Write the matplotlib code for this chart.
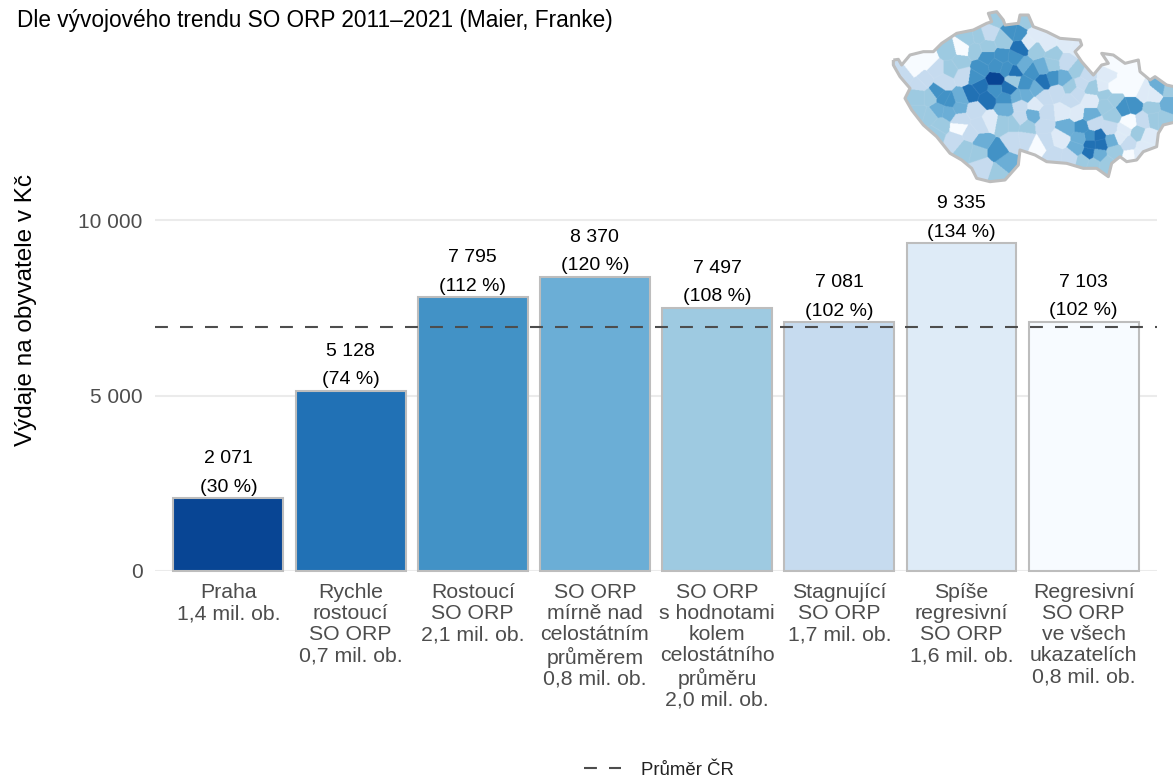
import matplotlib
matplotlib.use('Agg')
import matplotlib.pyplot as plt
from matplotlib.colors import to_rgb
from matplotlib.lines import Line2D
from matplotlib.patches import Polygon
import numpy as np

plt.rcParams['font.family'] = ['Liberation Sans', 'DejaVu Sans']

# data
categories = ['Praha\n1,4 mil. ob.',
              'Rychle\nrostoucí\nSO ORP\n0,7 mil. ob.',
              'Rostoucí\nSO ORP\n2,1 mil. ob.',
              'SO ORP\nmírně nad\ncelostátním\nprůměrem\n0,8 mil. ob.',
              'SO ORP\ns hodnotami\nkolem\ncelostátního\nprůměru\n2,0 mil. ob.',
              'Stagnující\nSO ORP\n1,7 mil. ob.',
              'Spíše\nregresivní\nSO ORP\n1,6 mil. ob.',
              'Regresivní\nSO ORP\nve všech\nukazatelích\n0,8 mil. ob.']
values = [2071, 5128, 7795, 8370, 7497, 7081, 9335, 7103]
percents = [30, 74, 112, 120, 108, 102, 134, 102]
bar_colors = ['#084594', '#2171B5', '#4292C6', '#6BAED6', '#9ECAE1', '#C6DBEF', '#DEEBF7', '#F7FBFF']
average = 6960
y_ticks = [0, 5000, 10000]
y_ticklabels = ['0', '5 000', '10 000']

# map: country outline and one (x, y, colour index) per district
country = [(40, 180), (55, 178), (65, 195), (90, 165), (130, 155), (160, 155), (185, 130), (230, 100), (280, 90),
           (320, 70), (335, 65), (325, 40), (350, 35), (370, 60), (375, 75), (415, 70), (420, 45), (445, 45),
           (460, 80), (500, 95), (540, 115), (600, 120), (605, 135), (585, 155), (605, 185), (640, 225), (665, 195),
           (685, 190), (665, 160), (700, 165), (735, 190), (775, 180), (780, 215), (810, 240), (825, 230), (860, 255),
           (890, 262), (890, 365), (850, 375), (835, 400), (830, 440), (790, 455), (770, 480), (740, 485), (720, 470),
           (695, 490), (685, 530), (650, 505), (610, 505), (560, 490), (500, 485), (465, 465), (420, 450), (415, 495),
           (375, 540), (330, 545), (290, 535), (275, 505), (245, 480), (210, 460), (170, 410), (130, 375), (95, 330),
           (75, 295), (90, 265), (60, 230), (40, 195)]
districts = [
    (100, 205, 7), (145, 180, 7), (75, 225, 5), (170, 205, 5), (130, 240, 5), (205, 155, 4), (245, 145, 7),
    (210, 205, 4), (240, 185, 4), (250, 225, 5), (190, 245, 5), (120, 250, 5), (285, 150, 4), (265, 115, 4),
    (295, 110, 4), (325, 100, 5), (320, 140, 4), (370, 120, 4), (345, 50, 4), (438, 60, 4), (415, 100, 2),
    (395, 95, 2), (420, 143, 1), (445, 125, 6), (465, 105, 6), (500, 130, 6), (560, 130, 6), (590, 140, 6),
    (470, 150, 4), (520, 165, 4), (560, 185, 5), (590, 210, 4), (620, 225, 5), (320, 170, 2), (365, 170, 2),
    (405, 175, 2), (300, 205, 2), (350, 195, 2), (380, 205, 2), (402, 215, 1), (345, 240, 0), (300, 260, 1),
    (285, 230, 2), (320, 295, 1), (385, 265, 1), (345, 268, 2), (375, 295, 2), (400, 240, 4), (430, 195, 3),
    (455, 215, 2), (435, 250, 2), (485, 200, 3), (515, 190, 4), (520, 235, 2), (490, 245, 1), (550, 235, 3),
    (470, 265, 3), (435, 285, 3), (410, 290, 3), (570, 260, 4), (530, 275, 5), (490, 290, 5), (590, 280, 5),
    (605, 250, 5), (635, 265, 4), (675, 280, 4), (190, 295, 2), (170, 275, 2), (240, 295, 3), (275, 280, 1),
    (210, 305, 2), (175, 330, 3), (205, 335, 3), (235, 320, 3), (115, 290, 4), (150, 290, 4), (115, 340, 4),
    (150, 350, 4), (180, 375, 4), (165, 400, 4), (225, 420, 5), (240, 360, 5), (285, 330, 5), (300, 375, 5),
    (270, 400, 5), (238, 382, 7), (328, 362, 6), (375, 325, 3), (370, 370, 4), (400, 370, 4), (420, 355, 5),
    (440, 380, 4), (460, 345, 3), (465, 315, 6), (420, 315, 5), (495, 340, 5), (305, 425, 3), (350, 455, 2),
    (375, 490, 3), (355, 515, 4), (310, 500, 5), (255, 445, 4), (295, 455, 4), (400, 420, 5), (435, 415, 5),
    (490, 375, 5), (495, 425, 5), (478, 435, 7), (540, 415, 6), (520, 465, 5), (570, 470, 5), (550, 335, 6),
    (590, 340, 6), (630, 300, 6), (570, 300, 5), (630, 345, 3), (560, 380, 3), (605, 380, 2), (640, 370, 5),
    (690, 385, 5), (700, 345, 4), (630, 410, 2), (600, 415, 3), (655, 410, 1), (630, 430, 1), (660, 430, 1),
    (695, 420, 3), (625, 460, 1), (590, 445, 3), (655, 465, 3), (610, 480, 4), (705, 455, 4), (680, 490, 4),
    (640, 490, 4), (730, 325, 2), (760, 315, 2), (680, 315, 4), (700, 300, 4), (745, 365, 7), (730, 390, 6),
    (680, 230, 6), (700, 260, 7), (740, 235, 7), (745, 195, 7), (700, 185, 7), (760, 265, 7), (670, 260, 6),
    (790, 280, 6), (840, 260, 3), (865, 265, 4), (820, 285, 6), (815, 325, 4), (790, 360, 5), (820, 355, 4),
    (865, 315, 3), (850, 355, 4), (775, 400, 4), (800, 410, 6), (745, 430, 5), (790, 440, 6), (720, 410, 6),
    (750, 468, 7), (775, 465, 6),
]

W, H = 1173, 780
fig = plt.figure(figsize=(W / 100, H / 100), dpi=100)
ax = fig.add_axes([155 / W, 1 - 571 / H, (1157 - 155) / W, (571 - 190) / H])

x = list(range(len(values)))
ax.bar(x, values, width=0.9, color=bar_colors, edgecolor='#BDBDBD', linewidth=1.5, zorder=2, clip_on=False)
ax.axhline(average, color='#4D4D4D', linewidth=1.5, dashes=(6.2, 5.8), zorder=3)

for i in x:
    label = format(values[i], ',').replace(',', ' ') + '\n(%d %%)' % percents[i]
    ax.annotate(label, (i, values[i]), xytext=(0, 2), textcoords='offset points', ha='center', va='bottom',
                fontsize=14, color='black', linespacing=1.86, annotation_clip=False)

ax.set_xlim(-0.6, 7.6)
ax.set_ylim(0, (571 - 190) / 0.0351)
ax.set_xticks(x)
ax.set_xticklabels(categories, fontsize=15.3, color='#4D4D4D', linespacing=1.13)
ax.set_yticks(y_ticks)
ax.set_yticklabels(y_ticklabels, fontsize=15, color='#4D4D4D')
ax.tick_params(axis='both', length=0)
ax.tick_params(axis='x', pad=9)
ax.tick_params(axis='y', pad=9)
ax.grid(axis='y', color='#EBEBEB', linewidth=1.5, zorder=0)
ax.set_axisbelow(True)
for s in ax.spines.values():
    s.set_visible(False)

fig.text(26 / W, 1 - 310 / H, 'Výdaje na obyvatele v Kč', rotation=90, fontsize=17.5, color='black',
         ha='center', va='center')
fig.text(17 / W, 1 - 21 / H, 'Dle vývojového trendu SO ORP 2011–2021 (Maier, Franke)', fontsize=16.25,
         color='black', ha='left', va='center')

handle = Line2D([], [], color='#4D4D4D', linewidth=1.5, dashes=(6.2, 5.8))
fig.legend(handles=[handle], labels=['Průměr ČR'], loc='center left', bbox_to_anchor=(567 / W, 1 - 770 / H),
           frameon=False, fontsize=13.4, handlelength=2.0, handletextpad=1.07, labelcolor='#222222')

# map inset: each pixel takes the colour of the nearest district point
m = fig.add_axes([880 / W, 1 - 190 / H, 293 / W, 190 / H])
m.set_xlim(0, 879)
m.set_ylim(570, 0)
m.axis('off')
gx, gy = np.meshgrid(np.arange(0, 879, 1.5), np.arange(0, 570, 1.5))
best = np.full(gx.shape, np.inf)
cell = np.zeros(gx.shape, dtype=int)
for k, (dx, dy, _) in enumerate(districts):
    dist = (gx - dx) ** 2 + (gy - dy) ** 2
    cell[dist < best] = k
    best = np.minimum(best, dist)
palette = np.array([to_rgb(c) for c in bar_colors])
rgb = palette[np.array([d[2] for d in districts])[cell]]
# thin light borders between districts
edge = np.zeros(cell.shape, dtype=bool)
edge[:-1, :] |= cell[:-1, :] != cell[1:, :]
edge[:, :-1] |= cell[:, :-1] != cell[:, 1:]
rgb[edge] = rgb[edge] * 0.88 + 0.12
im = m.imshow(rgb, extent=(0, 879, 570, 0), interpolation='antialiased', aspect='auto', zorder=1)
base = Polygon(country, closed=True, facecolor='none', edgecolor='none')
m.add_patch(base)
im.set_clip_path(base)
m.add_patch(Polygon(country, closed=True, facecolor='none', edgecolor='#BDBDBD', linewidth=2.2, zorder=3,
                    joinstyle='round'))

fig.savefig('out.png', dpi=100)
